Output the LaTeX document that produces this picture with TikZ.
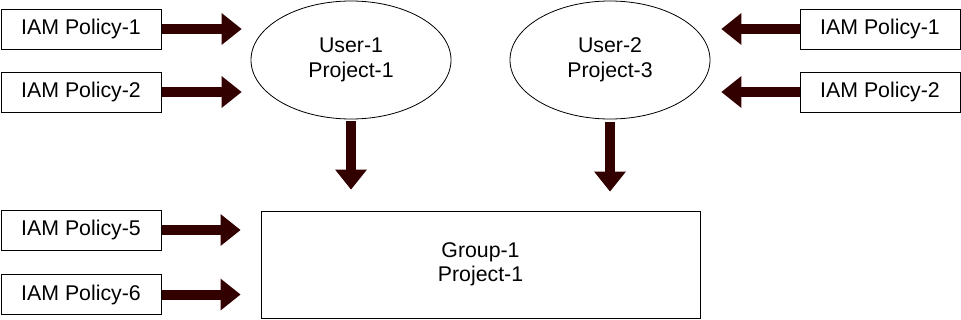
\documentclass[tikz,border=0pt]{standalone}
\usepackage{fontspec}
\setmainfont{Liberation Sans}
\usetikzlibrary{arrows.meta,shapes.geometric}
\definecolor{fatred}{HTML}{330000}
\tikzset{
  txt/.style={font=\fontsize{21.3}{24.5}\selectfont, align=center, inner sep=0pt},
  policy/.style={txt, draw, line width=1pt, minimum width=160pt, minimum height=40pt},
  user/.style={txt, draw, ellipse, line width=0.8pt, minimum width=200pt, minimum height=118pt},
  groupbox/.style={txt, draw, line width=1pt, minimum width=439pt, minimum height=107pt},
  fat/.style={draw=fatred, line width=10pt, -{Triangle[width=32pt,length=20pt,line width=0pt]}}
}
\begin{document}
\begin{tikzpicture}[x=1pt,y=-1pt]
\useasboundingbox (0,0) rectangle (961,319);
\node[policy] (p1l) at (81,29) {IAM Policy-1};
\node[policy] (p2l) at (81,92) {IAM Policy-2};
\node[policy] (p5l) at (81,230) {IAM Policy-5};
\node[policy] (p6l) at (81,294.5) {IAM Policy-6};
\node[policy] (p1r) at (880,29) {IAM Policy-1};
\node[policy] (p2r) at (880,92) {IAM Policy-2};
\node[user] (u1) at (351,60) {User-1\\Project-1};
\node[user] (u2) at (610,60) {User-2\\Project-3};
\node[groupbox] (g) at (480.5,264.5) {Group-1\\Project-1};
\draw[fat, shorten >=9pt] (p1l.east) -- (p1l.east -| u1.west);
\draw[fat, shorten >=9pt] (p2l.east) -- (p2l.east -| u1.west);
\draw[fat, shorten >=11pt] (p1r.west) -- (p1r.west -| u2.east);
\draw[fat, shorten >=11pt] (p2r.west) -- (p2r.west -| u2.east);
\draw[fat, shorten <=2pt, shorten >=21pt] (u1.south) -- (u1.south |- g.north);
\draw[fat, shorten <=3pt, shorten >=19pt] (u2.south) -- (u2.south |- g.north);
\draw[fat, shorten >=20pt] (p5l.east) -- (p5l.east -| g.west);
\draw[fat, shorten >=20pt] (p6l.east) -- (p6l.east -| g.west);
\end{tikzpicture}
\end{document}
